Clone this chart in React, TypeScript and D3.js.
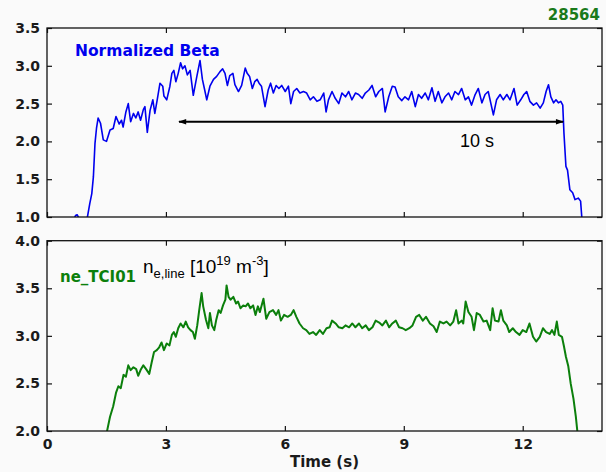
import React, { useEffect, useRef } from 'react';
import * as d3 from 'd3';

// shot number and panel labels
const shotNumber = '28564';
const betaLabel = 'Normalized Beta';
const densityLabel = 'ne_TCI01';
const timeTicks = [0, 3, 6, 9, 12];
const betaTicks = [1.0, 1.5, 2.0, 2.5, 3.0, 3.5];
const densityTicks = [2.0, 2.5, 3.0, 3.5, 4.0];

// normalized beta trace (time in s, value)
const betaTime = [
  0.68, 0.72, 0.76, 0.80, 0.85, 0.95, 1.02, 1.08, 1.13, 1.17, 1.21, 1.25, 1.29, 1.35, 1.42, 1.50,
  1.59, 1.67, 1.74, 1.82, 1.88, 1.92, 1.99, 2.05, 2.11, 2.18, 2.24, 2.30, 2.36, 2.43, 2.47, 2.53,
  2.60, 2.67, 2.72, 2.78, 2.85, 2.92, 2.95, 3.02, 3.10, 3.15, 3.20, 3.25, 3.31, 3.37, 3.42, 3.48,
  3.54, 3.61, 3.69, 3.78, 3.86, 3.92, 3.97, 4.03, 4.11, 4.20, 4.28, 4.36, 4.43, 4.49, 4.55, 4.61,
  4.69, 4.74, 4.83, 4.91, 5.00, 5.05, 5.11, 5.18, 5.24, 5.30, 5.35, 5.41, 5.50, 5.58, 5.64, 5.71,
  5.78, 5.85, 5.92, 6.01, 6.09, 6.15, 6.22, 6.30, 6.38, 6.47, 6.55, 6.64, 6.72, 6.81, 6.89, 6.98,
  7.04, 7.10, 7.19, 7.27, 7.36, 7.44, 7.53, 7.61, 7.69, 7.78, 7.86, 7.95, 8.03, 8.12, 8.20, 8.29,
  8.37, 8.46, 8.53, 8.62, 8.71, 8.78, 8.86, 8.95, 9.03, 9.12, 9.20, 9.29, 9.37, 9.45, 9.54, 9.62,
  9.71, 9.79, 9.87, 9.96, 10.04, 10.13, 10.21, 10.29, 10.38, 10.46, 10.55, 10.63, 10.71, 10.80,
  10.88, 10.97, 11.05, 11.13, 11.26, 11.34, 11.43, 11.51, 11.60, 11.68, 11.78, 11.86, 11.95,
  12.03, 12.10, 12.18, 12.27, 12.35, 12.44, 12.52, 12.59, 12.65, 12.71, 12.78, 12.84, 12.90,
  12.96, 13.01, 13.04, 13.09, 13.13, 13.19, 13.26, 13.32, 13.40, 13.46, 13.49, 13.52,
];
const betaValue = [
  0.97, 1.02, 1.03, 0.99, 0.96, 0.96, 1.00, 1.18, 1.31, 1.53, 1.97, 2.18, 2.31, 2.24, 2.02, 2.00,
  2.15, 2.17, 2.33, 2.23, 2.28, 2.19, 2.39, 2.50, 2.26, 2.37, 2.31, 2.39, 2.28, 2.42, 2.46, 2.12,
  2.41, 2.55, 2.37, 2.55, 2.77, 2.73, 2.60, 2.55, 2.73, 2.90, 2.94, 2.79, 2.90, 3.04, 2.96, 3.00,
  2.88, 2.94, 2.61, 2.86, 3.07, 2.82, 2.70, 2.55, 2.73, 2.82, 2.86, 2.92, 2.96, 2.90, 2.74, 2.87,
  2.90, 2.75, 2.66, 2.74, 2.97, 2.90, 2.86, 2.70, 2.79, 2.82, 2.77, 2.73, 2.46, 2.68, 2.77, 2.64,
  2.74, 2.70, 2.74, 2.66, 2.73, 2.50, 2.66, 2.70, 2.64, 2.66, 2.64, 2.55, 2.59, 2.53, 2.55, 2.64,
  2.39, 2.55, 2.66, 2.57, 2.50, 2.64, 2.59, 2.66, 2.55, 2.64, 2.62, 2.57, 2.64, 2.68, 2.74, 2.59,
  2.66, 2.70, 2.39, 2.59, 2.73, 2.72, 2.59, 2.54, 2.59, 2.55, 2.66, 2.46, 2.62, 2.57, 2.64, 2.55,
  2.71, 2.53, 2.66, 2.51, 2.59, 2.64, 2.55, 2.66, 2.62, 2.70, 2.55, 2.59, 2.48, 2.62,
  2.70, 2.51, 2.62, 2.66, 2.35, 2.55, 2.62, 2.55, 2.62, 2.55, 2.70, 2.48, 2.55,
  2.62, 2.66, 2.53, 2.48, 2.51, 2.44, 2.51, 2.66, 2.75, 2.59, 2.51, 2.55, 2.51,
  2.53, 2.48, 2.11, 1.67, 1.62, 1.36, 1.32, 1.23, 1.25, 1.21, 1.00, 0.90,
];

// line-integrated density trace (time in s, 10^19 m^-3)
const densityTime = [
  1.51, 1.59, 1.67, 1.74, 1.80, 1.86, 1.93, 1.99, 2.05, 2.11, 2.18, 2.25, 2.30, 2.36, 2.43, 2.50,
  2.58, 2.64, 2.70, 2.77, 2.83, 2.89, 2.95, 3.02, 3.09, 3.15, 3.20, 3.25, 3.31, 3.37, 3.44, 3.50,
  3.56, 3.62, 3.68, 3.73, 3.79, 3.84, 3.90, 3.94, 4.01, 4.07, 4.11, 4.16, 4.22, 4.27, 4.33, 4.38,
  4.44, 4.50, 4.53, 4.58, 4.63, 4.70, 4.77, 4.82, 4.88, 4.95, 5.01, 5.07, 5.13, 5.20, 5.26, 5.32,
  5.37, 5.46, 5.53, 5.61, 5.70, 5.78, 5.84, 5.90, 5.98, 6.07, 6.15, 6.22, 6.29, 6.37, 6.46, 6.54,
  6.62, 6.71, 6.79, 6.88, 6.96, 7.05, 7.13, 7.19, 7.28, 7.36, 7.45, 7.53, 7.62, 7.70, 7.78, 7.87,
  7.95, 8.04, 8.12, 8.21, 8.29, 8.38, 8.46, 8.55, 8.63, 8.71, 8.80, 8.88, 8.97, 9.05, 9.14, 9.22,
  9.31, 9.39, 9.48, 9.56, 9.66, 9.75, 9.83, 9.91, 10.00, 10.08, 10.17, 10.25, 10.32, 10.38, 10.46,
  10.50, 10.56, 10.63, 10.71, 10.77, 10.84, 10.92, 11.01, 11.09, 11.18, 11.24, 11.30, 11.39,
  11.45, 11.51, 11.60, 11.66, 11.75, 11.83, 11.92, 12.00, 12.09, 12.17, 12.26, 12.34, 12.43,
  12.51, 12.59, 12.68, 12.74, 12.80, 12.86, 12.91, 12.99, 13.04, 13.09, 13.15, 13.21, 13.28,
  13.34, 13.38,
];
const densityValue = [
  1.99, 2.15, 2.26, 2.40, 2.47, 2.45, 2.59, 2.57, 2.69, 2.64, 2.67, 2.65, 2.58, 2.64, 2.69, 2.65,
  2.60, 2.72, 2.83, 2.85, 2.88, 2.93, 2.85, 2.92, 2.90, 3.01, 3.04, 2.99, 3.08, 3.13, 3.09, 3.15,
  3.09, 3.06, 3.04, 2.97, 3.11, 3.27, 3.45, 3.31, 3.17, 3.08, 3.24, 3.11, 3.06, 3.17, 3.27, 3.24,
  3.32, 3.38, 3.53, 3.41, 3.38, 3.41, 3.34, 3.36, 3.29, 3.32, 3.31, 3.34, 3.29, 3.32, 3.22, 3.31,
  3.25, 3.39, 3.18, 3.25, 3.27, 3.22, 3.27, 3.16, 3.22, 3.20, 3.22, 3.27, 3.20, 3.13, 3.08, 3.06,
  3.02, 3.04, 3.01, 3.06, 3.02, 3.08, 3.09, 3.16, 3.13, 3.09, 3.08, 3.11, 3.09, 3.13, 3.09, 3.13,
  3.08, 3.11, 3.06, 3.09, 3.16, 3.14, 3.11, 3.16, 3.09, 3.13, 3.16, 3.09, 3.08, 3.06, 3.08, 3.11,
  3.20, 3.22, 3.16, 3.20, 3.13, 3.10, 3.04, 3.15, 3.13, 3.15, 3.11, 3.15, 3.27, 3.13, 3.16,
  3.13, 3.36, 3.25, 3.20, 3.06, 3.24, 3.22, 3.15, 3.16, 3.06, 3.29, 3.16, 3.15,
  3.27, 3.16, 3.11, 3.04, 3.08, 3.04, 3.01, 3.06, 3.04, 3.13, 2.99, 2.94, 2.99,
  3.08, 3.04, 3.02, 3.06, 3.01, 3.15, 3.01, 2.99, 2.89, 2.78, 2.68, 2.50, 2.34,
  2.15, 1.99,
];

// flat-top duration annotation
const flatTopStart = 3.33;
const flatTopEnd = 13.02;
const flatTopLevel = 2.26;
const flatTopText = '10 s';
const flatTopTextTime = 10.42;
const flatTopTextLevel = 1.93;

const BLUE = '#0000ee';
const GREEN = '#0b7f0b';
const BOLD = '"DejaVu Sans", sans-serif';
const PLAIN = '"Liberation Sans", Arial, sans-serif';

const App = () => {
  const ref = useRef<SVGSVGElement>(null);

  useEffect(() => {
    const width = 606;
    const height = 472;
    const left = 47;
    const right = 602;

    const svg = d3.select(ref.current)
      .attr('width', width)
      .attr('height', height);
    svg.selectAll('*').remove();

    svg.append('rect')
      .attr('width', width)
      .attr('height', height)
      .attr('fill', '#fafafa');

    const x = d3.scaleLinear().domain([0, 14]).range([left, right]);
    const yTop = d3.scaleLinear().domain([1, 3.5]).range([217, 28]);
    const yBot = d3.scaleLinear().domain([2, 4]).range([431, 240.7]);

    const defs = svg.append('defs');

    // draws one panel: frame, inward ticks on all sides, clipped trace
    const panel = (id, y, yTicks, times, values, color, lineWidth, showTimeLabels) => {
      const [y0, y1] = y.range();
      defs.append('clipPath').attr('id', id)
        .append('rect')
        .attr('x', left).attr('y', y1)
        .attr('width', right - left).attr('height', y0 - y1);

      const g = svg.append('g');

      const styleAxis = sel => {
        sel.select('.domain').remove();
        sel.selectAll('line').attr('stroke', '#111').attr('stroke-width', 1.2);
        sel.selectAll('text')
          .attr('font-family', BOLD)
          .attr('font-weight', 'bold')
          .attr('font-size', 14)
          .attr('fill', '#1a1a1a');
      };

      g.append('g')
        .attr('transform', `translate(${left},0)`)
        .call(d3.axisLeft(y).tickValues(yTicks).tickSize(-5).tickPadding(7).tickFormat(d3.format('.1f')))
        .call(styleAxis);
      g.append('g')
        .attr('transform', `translate(${right},0)`)
        .call(d3.axisRight(y).tickValues(yTicks).tickSize(-5).tickFormat(() => ''))
        .call(styleAxis);
      g.append('g')
        .attr('transform', `translate(0,${y0})`)
        .call(d3.axisBottom(x).tickValues(timeTicks).tickSize(-5).tickPadding(8)
          .tickFormat(d => (showTimeLabels ? String(d) : '')))
        .call(styleAxis);
      g.append('g')
        .attr('transform', `translate(0,${y1})`)
        .call(d3.axisTop(x).tickValues(timeTicks).tickSize(-5).tickFormat(() => ''))
        .call(styleAxis);

      const line = d3.line()
        .x(i => x(times[i]))
        .y(i => y(values[i]));

      g.append('path')
        .attr('clip-path', `url(#${id})`)
        .attr('d', line(d3.range(times.length)))
        .attr('fill', 'none')
        .attr('stroke', color)
        .attr('stroke-width', lineWidth)
        .attr('stroke-linejoin', 'round');

      g.append('rect')
        .attr('x', left).attr('y', y1)
        .attr('width', right - left).attr('height', y0 - y1)
        .attr('fill', 'none')
        .attr('stroke', '#111')
        .attr('stroke-width', 1.3);

      return g;
    };

    const top = panel('clip-beta', yTop, betaTicks, betaTime, betaValue, BLUE, 1.6, false);
    const bottom = panel('clip-ne', yBot, densityTicks, densityTime, densityValue, GREEN, 2, true);

    // shot number
    svg.append('text')
      .attr('x', 600).attr('y', 20)
      .attr('text-anchor', 'end')
      .attr('font-family', BOLD).attr('font-weight', 'bold').attr('font-size', 15)
      .attr('fill', '#1a7a1a')
      .text(shotNumber);

    top.append('text')
      .attr('x', 75).attr('y', 56)
      .attr('font-family', BOLD).attr('font-weight', 'bold').attr('font-size', 15.5)
      .attr('fill', BLUE)
      .text(betaLabel);

    // double arrow for flat-top length
    defs.append('marker')
      .attr('id', 'arrow-head')
      .attr('viewBox', '0 0 10 10')
      .attr('refX', 9).attr('refY', 5)
      .attr('markerWidth', 5).attr('markerHeight', 4)
      .attr('orient', 'auto-start-reverse')
      .append('path')
      .attr('d', 'M0,1.5 L10,5 L0,8.5 Z')
      .attr('fill', '#000');

    top.append('line')
      .attr('x1', x(flatTopStart)).attr('x2', x(flatTopEnd))
      .attr('y1', yTop(flatTopLevel)).attr('y2', yTop(flatTopLevel))
      .attr('stroke', '#000').attr('stroke-width', 2)
      .attr('marker-start', 'url(#arrow-head)')
      .attr('marker-end', 'url(#arrow-head)');

    top.append('text')
      .attr('x', x(flatTopTextTime)).attr('y', yTop(flatTopTextLevel))
      .attr('font-family', PLAIN).attr('font-size', 18)
      .attr('fill', '#000')
      .text(flatTopText);

    bottom.append('text')
      .attr('x', 60).attr('y', 282)
      .attr('font-family', BOLD).attr('font-weight', 'bold').attr('font-size', 15)
      .attr('fill', GREEN)
      .text(densityLabel);

    // n_e,line [10^19 m^-3]
    const unit = bottom.append('text')
      .attr('x', 143).attr('y', 273)
      .attr('font-family', PLAIN).attr('font-size', 19)
      .attr('fill', '#000');
    unit.append('tspan').text('n');
    unit.append('tspan').attr('font-size', 13).attr('dy', 5).text('e,line');
    unit.append('tspan').attr('dy', -5).text(' [10');
    unit.append('tspan').attr('font-size', 13).attr('dy', -8).text('19');
    unit.append('tspan').attr('dy', 8).text(' m');
    unit.append('tspan').attr('font-size', 13).attr('dy', -8).text('-3');
    unit.append('tspan').attr('dy', 8).text(']');

    svg.append('text')
      .attr('x', (left + right) / 2).attr('y', 467)
      .attr('text-anchor', 'middle')
      .attr('font-family', BOLD).attr('font-weight', 'bold').attr('font-size', 15)
      .attr('fill', '#1a1a1a')
      .text('Time (s)');
  }, []);

  return <svg ref={ref} style={{ position: 'absolute', left: 0, top: 0, display: 'block' }} />;
};

export default App;
